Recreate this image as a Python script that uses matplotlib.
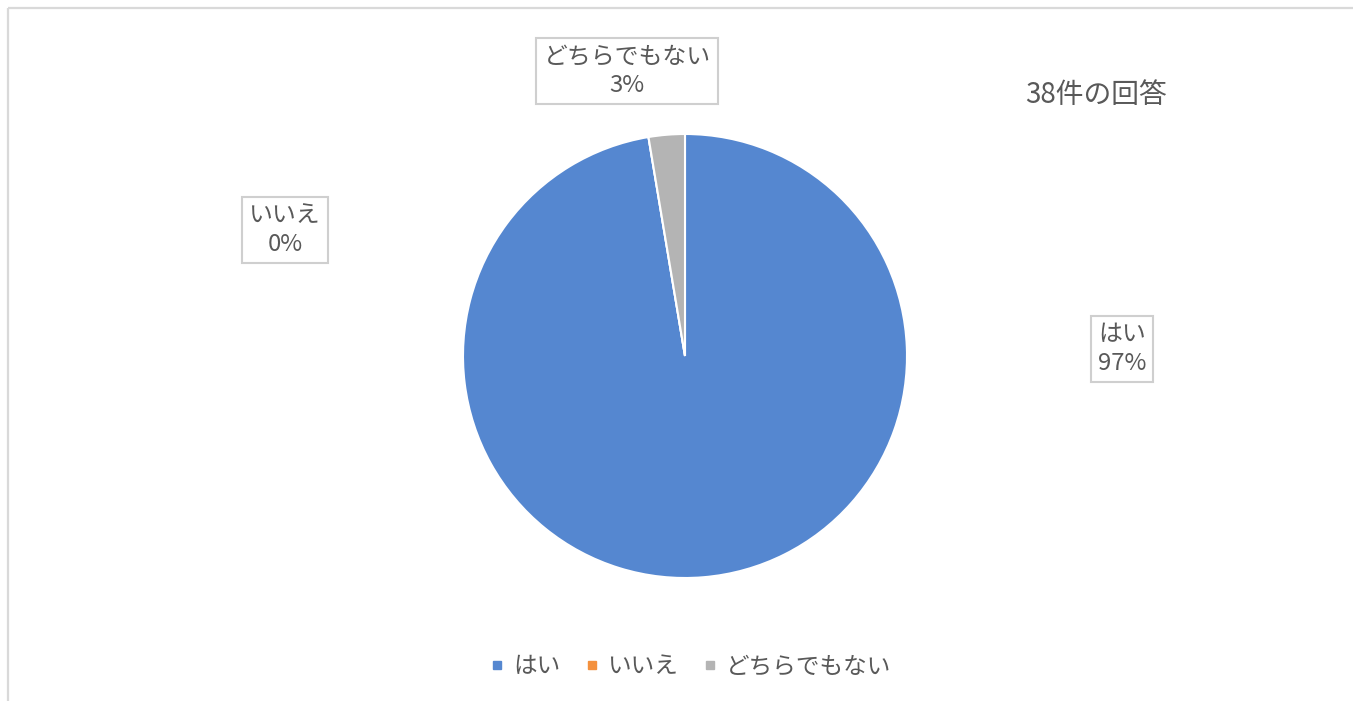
import matplotlib
matplotlib.use('Agg')
import matplotlib.pyplot as plt
from matplotlib.lines import Line2D

plt.rcParams['font.family'] = ['Noto Sans CJK JP', 'DejaVu Sans']

# survey answers (38 responses)
categories = ['はい', 'いいえ', 'どちらでもない']
counts = [37, 0, 1]
colors = ['#5587D0', '#F4913E', '#B4B4B4']
title = '38件の回答'

W, H = 1353, 701
fig = plt.figure(figsize=(W / 100, H / 100), dpi=100)
ax = fig.add_axes([0, 0, 1, 1])

text_color = '#595959'

# chart frame (only top and left edges visible)
ax.plot([8, W], [H - 8, H - 8], color='#D9D9D9', lw=1.6, solid_capstyle='butt')
ax.plot([8, 8], [H - 8, 0], color='#D9D9D9', lw=1.6, solid_capstyle='butt')

ax.pie(counts, colors=colors, startangle=90, counterclock=False,
       center=(685, H - 356), radius=222, frame=True,
       wedgeprops=dict(edgecolor='white', linewidth=1.5))
ax.set_xlim(0, W)
ax.set_ylim(0, H)
ax.set_aspect('equal')
ax.axis('off')

# data labels in boxes
total = sum(counts)
label_pos = [(1122, H - 349), (285, H - 230), (627, H - 71)]
for cat, n, (x, y) in zip(categories, counts, label_pos):
    pct = round(n / total * 100)
    ax.text(x, y, f'{cat}\n{pct}%', ha='center', va='center', fontsize=17.2,
            color=text_color, linespacing=1.3,
            bbox=dict(boxstyle='square,pad=0.3', fc='white', ec='#CFCFCF', lw=1.5))

ax.text(1025, H - 95, title, ha='left', va='center', fontsize=20, color=text_color)

handles = [Line2D([0], [0], marker='s', ls='none', markersize=6,
                  markerfacecolor=c, markeredgecolor=c) for c in colors]
fig.legend(handles, categories, loc='center', bbox_to_anchor=(690 / W, 1 - 667 / H),
           ncol=3, frameon=False, fontsize=17, labelcolor=text_color,
           handlelength=0.7, handletextpad=0.3, columnspacing=1.0)

fig.savefig('out.png', dpi=100)
